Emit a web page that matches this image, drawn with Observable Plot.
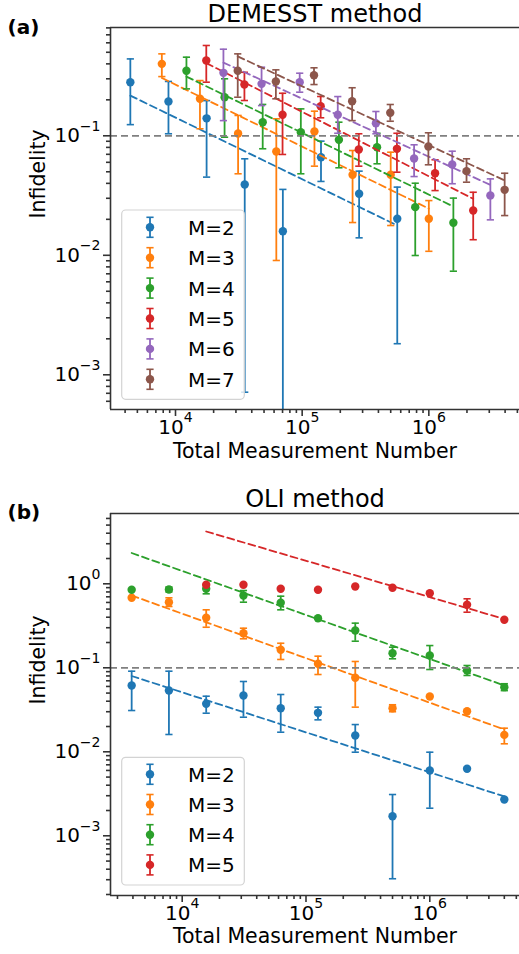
<!DOCTYPE html>
<html><head><meta charset="utf-8">
<script src="https://cdn.jsdelivr.net/npm/d3@7"></script>
<script src="https://cdn.jsdelivr.net/npm/@observablehq/plot@0.6"></script>
<style>
body{margin:0;background:#fff;}
#wrap{position:relative;width:519px;height:954px;font-family:"DejaVu Sans",sans-serif;}
#wrap > svg{position:absolute;left:0;}
</style></head><body><div id="wrap"></div>
<script>
// ---------- data ----------
const colors = ["#1f77b4","#ff7f0e","#2ca02c","#d62728","#9467bd","#8c564b"];

// Panel (a): DEMESST method
const aM = [2,3,4,5,6,7];
const aN = [
  [4400, 8800, 17600, 35200, 70400, 140800, 281600, 563200],
  [7800, 15600, 31200, 62500, 125000, 250000, 500000, 1000000],
  [12200, 24400, 48800, 97600, 195000, 390000, 781000, 1562000],
  [17500, 35000, 70000, 140000, 280000, 560000, 1120000, 2240000],
  [23900, 47800, 95600, 191000, 382000, 765000, 1530000, 3060000],
  [31000, 62000, 124000, 248000, 496000, 992000, 1984000, 3968000]
];
const aY = [
  [0.281, 0.194, 0.140, 0.0391, 0.0159, 0.0662, 0.0327, 0.0202],
  [0.400, 0.204, 0.1045, 0.0739, 0.1087, 0.0472, 0.0472, 0.0202],
  [0.350, 0.2105, 0.130, 0.107, 0.0926, 0.0803, 0.0253, 0.0187],
  [0.4266, 0.2685, 0.150, 0.177, 0.0767, 0.0778, 0.0486, 0.0237],
  [0.3365, 0.272, 0.281, 0.150, 0.1274, 0.0646, 0.0575, 0.0317],
  [0.350, 0.2845, 0.3213, 0.1948, 0.1558, 0.0814, 0.0506, 0.0353]
];
const aLo = [
  [0.124, 0.104, 0.0451, 0.000715, 1e-5, 0.0415, 0.0140, 0.00182],
  [0.313, 0.1145, 0.0481, 0.00905, 0.0557, 0.0188, 0.01775, 0.0108],
  [0.247, 0.0973, 0.0779, 0.0481, 0.054, 0.0583, 0.00996, 0.00736],
  [0.281, 0.1974, 0.0698, 0.1415, 0.0557, 0.0496, 0.0348, 0.0135],
  [0.134, 0.179, 0.2317, 0.105, 0.104, 0.0456, 0.0397, 0.0198],
  [0.2103, 0.204, 0.2685, 0.134, 0.1324, 0.0572, 0.0409, 0.0215]
];
const aHi = [
  [0.440, 0.285, 0.197, 0.0642, 0.0356, 0.0902, 0.0506, 0.0372],
  [0.485, 0.290, 0.148, 0.1387, 0.1607, 0.0753, 0.0729, 0.0287],
  [0.455, 0.300, 0.183, 0.168, 0.130, 0.105, 0.0401, 0.0301],
  [0.570, 0.340, 0.227, 0.2133, 0.104, 0.105, 0.063, 0.0337],
  [0.5305, 0.375, 0.334, 0.213, 0.1597, 0.0841, 0.0743, 0.0436],
  [0.485, 0.3565, 0.3707, 0.2524, 0.1828, 0.106, 0.0642, 0.0486]
];
// fitted line values at first and last N of each series
const aFit = [[0.217, 0.01776],[0.305, 0.0246],[0.313, 0.0256],[0.406, 0.0297],[0.410, 0.0388],[0.462, 0.0423]];

// Panel (b): OLI method
const bM = [2,3,4,5];
const bN = [
  [3906, 7812, 15625, 31250, 62500, 125000, 250000, 500000, 1000000, 2000000, 4000000],
  [3906, 7812, 15625, 31250, 62500, 125000, 250000, 500000, 1000000, 2000000, 4000000],
  [3906, 7812, 15625, 31250, 62500, 125000, 250000, 500000, 1000000, 2000000, 4000000],
  [15625, 31250, 62500, 125000, 250000, 500000, 1000000, 2000000, 4000000]
];
const bY = [
  [0.0616, 0.0537, 0.0373, 0.0468, 0.0330, 0.0291, 0.0156, 0.00171, 0.00599, 0.00628, 0.0027],
  [0.681, 0.604, 0.394, 0.258, 0.1637, 0.1116, 0.076, 0.033, 0.0455, 0.0304, 0.0159],
  [0.848, 0.855, 0.872, 0.726, 0.594, 0.3895, 0.278, 0.149, 0.140, 0.0929, 0.0588],
  [0.973, 0.973, 0.872, 0.848, 0.929, 0.896, 0.773, 0.562, 0.373]
];
const bLo = [
  [0.0310, 0.01607, 0.0288, 0.0258, 0.0171, 0.0240, 0.00989, 0.000308, 0.00213, 0.00628, 0.0027],
  [0.681, 0.537, 0.304, 0.2215, 0.1256, 0.0832, 0.034, 0.030, 0.0455, 0.0304, 0.01245],
  [0.848, 0.80, 0.760, 0.604, 0.490, 0.3895, 0.2073, 0.128, 0.0954, 0.081, 0.0535],
  [0.973, 0.973, 0.872, 0.848, 0.929, 0.896, 0.773, 0.459, 0.373]
];
const bHi = [
  [0.0911, 0.0911, 0.0459, 0.0687, 0.0481, 0.034, 0.0211, 0.0031, 0.00989, 0.00628, 0.0027],
  [0.681, 0.681, 0.490, 0.296, 0.196, 0.1375, 0.1189, 0.0363, 0.0455, 0.0304, 0.0191],
  [0.848, 0.915, 0.954, 0.832, 0.712, 0.3895, 0.340, 0.176, 0.184, 0.1065, 0.0646],
  [0.973, 0.973, 0.872, 0.848, 0.929, 0.896, 0.773, 0.663, 0.373]
];
const bFit = [[0.0799, 0.00294],[0.726, 0.01843],[2.326, 0.0616],[4.195, 0.381]];

const threshold = 0.1;
const xLabel = "Total Measurement Number";
const yLabel = "Infidelity";

// ---------- drawing ----------
const ns = "http://www.w3.org/2000/svg";
const capSymbol = {draw(ctx, size){ const w = Math.sqrt(size/Math.PI); ctx.moveTo(-w,0); ctx.lineTo(w,0); }};
const fmt = d => { const e = Math.round(Math.log10(d)); return "10^" + (e < 0 ? "\u2212" + (-e) : e); };

function logTicks(domain){
  const lo = Math.floor(Math.log10(domain[0])), hi = Math.ceil(Math.log10(domain[1]));
  const major = [], minor = [];
  for (let e = lo; e <= hi; e++) {
    const p = Math.pow(10, e);
    if (p >= domain[0] && p <= domain[1]) major.push(p);
    for (let k = 2; k <= 9; k++) { const v = k * p; if (v >= domain[0] && v <= domain[1]) minor.push(v); }
  }
  return {major, minor};
}

function panel(o){
  const marks = [];
  o.M.forEach((m, i) => {
    const rows = o.N[i].map((x, j) => ({x, y: o.Y[i][j], lo: o.LO[i][j], hi: o.HI[i][j]}));
    const bars = rows.filter(r => r.hi > r.lo);
    const c = colors[i];
    marks.push(Plot.ruleX(bars, {x: "x", y1: "lo", y2: "hi", stroke: c, strokeWidth: 1.8, clip: true}));
    marks.push(Plot.dot(bars, {x: "x", y: "hi", symbol: capSymbol, r: 3.6, stroke: c, strokeWidth: 1.6, fill: "none", clip: true}));
    marks.push(Plot.dot(bars, {x: "x", y: "lo", symbol: capSymbol, r: 3.6, stroke: c, strokeWidth: 1.6, fill: "none", clip: true}));
    marks.push(Plot.dot(rows, {x: "x", y: "y", r: 4.2, fill: c, stroke: "none"}));
    const n = o.N[i];
    const fit = [{x: n[0], y: o.FIT[i][0]}, {x: n[n.length-1], y: o.FIT[i][1]}];
    marks.push(Plot.line(fit, {x: "x", y: "y", stroke: c, strokeWidth: 1.8, strokeDasharray: "7,4"}));
  });
  marks.push(Plot.ruleY([threshold], {stroke: "#808080", strokeWidth: 1.8, strokeDasharray: "7,4"}));
  const xt = logTicks(o.xDomain), yt = logTicks(o.yDomain);
  const ax = {stroke: "#333", strokeWidth: 1.6, label: null};
  marks.push(Plot.axisX(xt.major, {...ax, tickSize: 7, tickPadding: 3, tickFormat: fmt, fontSize: 20}));
  marks.push(Plot.axisX(xt.minor, {...ax, tickSize: 4, tickFormat: () => ""}));
  marks.push(Plot.axisY(yt.major, {...ax, tickSize: 7, tickPadding: 3, tickFormat: fmt, fontSize: 20}));
  marks.push(Plot.axisY(yt.minor, {...ax, tickSize: 4, tickFormat: () => ""}));
  marks.push(Plot.ruleX([o.xDomain[0]], {stroke: "#333", strokeWidth: 1.6}));
  marks.push(Plot.ruleY([o.yDomain[0]], {stroke: "#333", strokeWidth: 1.6}));
  marks.push(Plot.ruleY([o.yDomain[1]], {stroke: "#333", strokeWidth: 1.6}));
  marks.push(Plot.text([o.title], {text: d => d, frameAnchor: "top", lineAnchor: "middle", dy: o.titleDy, fontSize: 24, fill: "#000"}));
  marks.push(Plot.text([o.tag], {text: d => d, frameAnchor: "top-left", lineAnchor: "middle", textAnchor: "start", dx: -103, dy: o.tagDy, fontSize: 20, fontWeight: "bold", fill: "#000"}));
  marks.push(Plot.text([xLabel], {text: d => d, frameAnchor: "bottom", lineAnchor: "middle", dy: o.xLabelDy, fontSize: 20.5, fill: "#000"}));
  marks.push(Plot.text([yLabel], {text: d => d, frameAnchor: "left", lineAnchor: "middle", rotate: -90, dx: -72, fontSize: 20.5, fill: "#000"}));

  const svg = Plot.plot({
    width: 519, height: o.height,
    marginLeft: 110, marginRight: 0, marginTop: o.marginTop, marginBottom: o.marginBottom,
    x: {type: "log", domain: o.xDomain},
    y: {type: "log", domain: o.yDomain},
    style: {fontFamily: "'DejaVu Sans', sans-serif", fontSize: "20px", color: "#000", background: "transparent", overflow: "visible"},
    marks
  });
  svg.querySelectorAll("text").forEach(t => {
    const m = /^10\^(\u2212?\d+)$/.exec(t.textContent);
    if (m) {
      t.textContent = "10";
      const ts = document.createElementNS(ns, "tspan");
      ts.setAttribute("dy", "-11.5");
      ts.setAttribute("font-size", "14");
      ts.textContent = m[1];
      t.appendChild(ts);
    }
  });
  svg.style.top = o.top + "px";
  return svg;
}

const wrap = document.getElementById("wrap");
wrap.appendChild(panel({
  M: aM, N: aN, Y: aY, LO: aLo, HI: aHi, FIT: aFit,
  xDomain: [3068, 5.197e6], yDomain: [5.123e-4, 0.806],
  height: 477, marginTop: 27, marginBottom: 68, top: 0,
  title: "DEMESST method", titleDy: -12.7, tag: "(a)", tagDy: 0.1, xLabelDy: 41.7
}));
wrap.appendChild(panel({
  M: bM, N: bN, Y: bY, LO: bLo, HI: bHi, FIT: bFit,
  xDomain: [2635, 5.305e6], yDomain: [1.946e-4, 6.87],
  height: 477, marginTop: 36, marginBottom: 59, top: 477,
  title: "OLI method", titleDy: -14, tag: "(b)", tagDy: -0.9, xLabelDy: 40.5
}));

// legends (overlay)
const ov = d3.select(wrap).append("svg").attr("width", 519).attr("height", 954).style("top", "0px").style("pointer-events", "none");
function legend(M, box, y0, step){
  const g = ov.append("g");
  g.append("rect").attr("x", box.x).attr("y", box.y).attr("width", box.w).attr("height", box.h)
    .attr("rx", 4).attr("fill", "#fff").attr("fill-opacity", 0.8).attr("stroke", "#d3d3d3").attr("stroke-width", 1.2);
  M.forEach((m, i) => {
    const cy = y0 + i * step, cx = 150, c = colors[i];
    g.append("line").attr("x1", cx).attr("x2", cx).attr("y1", cy - 10).attr("y2", cy + 10).attr("stroke", c).attr("stroke-width", 1.8);
    [cy - 10, cy + 10].forEach(yy => g.append("line").attr("x1", cx - 3.6).attr("x2", cx + 3.6).attr("y1", yy).attr("y2", yy).attr("stroke", c).attr("stroke-width", 1.6));
    g.append("circle").attr("cx", cx).attr("cy", cy).attr("r", 4.2).attr("fill", c);
    g.append("text").attr("x", 188).attr("y", cy + 7.5).attr("font-family", "'DejaVu Sans', sans-serif").attr("font-size", 20).attr("fill", "#000").text("M=" + m);
  });
}
legend(aM, {x: 121.7, y: 210, w: 122.6, h: 189.3}, 227.3, 30.4);
legend(bM, {x: 121.7, y: 757.3, w: 122.6, h: 127.7}, 774.3, 30.2);
</script></body></html>
